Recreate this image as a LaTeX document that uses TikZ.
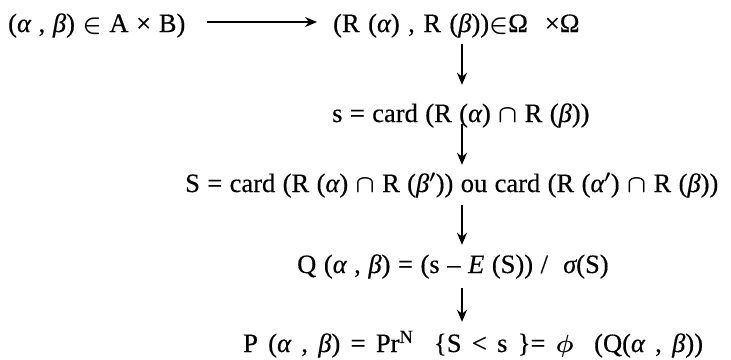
\documentclass[tikz,border=0pt]{standalone}
\usepackage{fontspec}
\setmainfont{Liberation Serif}[FakeBold=0.4]
\usetikzlibrary{arrows.meta}
\newcommand{\myal}{{\itshape α}}
\newcommand{\mybe}{{\itshape β}}
\newcommand{\bigfont}{\fontsize{26.5}{30}\selectfont\mathversion{bold}\spaceskip=0.32em plus 0.1em}
\begin{document}
\begin{tikzpicture}[x=1pt,y=1pt,
  txt/.style={anchor=base west,inner sep=0pt,text height=17pt,text depth=6pt,font=\bigfont},
  arr/.style={-{Stealth[length=12pt,width=10pt]},line width=2.2pt}]
\useasboundingbox (0,0) rectangle (731,-359);
\node[txt] (l1a) at (8,-32) {\spaceskip=0.29em (\myal\ , \mybe) $\in$ A × B)};
\node[txt] (l1b) at (333,-32) {(R (\myal) , R (\mybe))$\in$Ω\ \ ×Ω};
\node[txt] (ls) at (332,-122) {\spaceskip=0.28em s = card (R (\myal) $\cap$ R (\mybe))};
\node[txt] (lS) at (185,-192) {\spaceskip=0.28em S = card (R (\myal) $\cap$ R (\mybe$'$)) ou card (R (\myal$'$) $\cap$ R (\mybe))};
\node[txt] (lQ) at (297,-273) {\spaceskip=0.286em Q (\myal\ , \mybe) = (s – {\itshape E} (S)) /\ \ {\itshape σ}(S)};
\node[txt] (lP) at (243,-352) {\spaceskip=0.39em P (\myal\ , \mybe) = Pr\textsuperscript{N}\ \ \{S < s \}= $\phi$\ \ (Q(\myal\ , \mybe))};
\coordinate (ax) at (462,0);
\draw[arr,shorten <=21pt,shorten >=16pt] ([yshift=10pt]l1a.base east) -- ([yshift=10pt]l1b.base west);
\draw[arr,shorten <=6pt,shorten >=20pt] (l1b.south -| ax) -- (ls.north -| ax);
\draw[arr,shorten <=-4pt,shorten >=10pt] (ls.south -| ax) -- (lS.north -| ax);
\draw[arr,shorten <=7pt,shorten >=11pt] (lS.south -| ax) -- (lQ.north -| ax);
\draw[arr,shorten <=9pt,shorten >=13pt] (lQ.south -| ax) -- (lP.north -| ax);
\end{tikzpicture}
\end{document}
